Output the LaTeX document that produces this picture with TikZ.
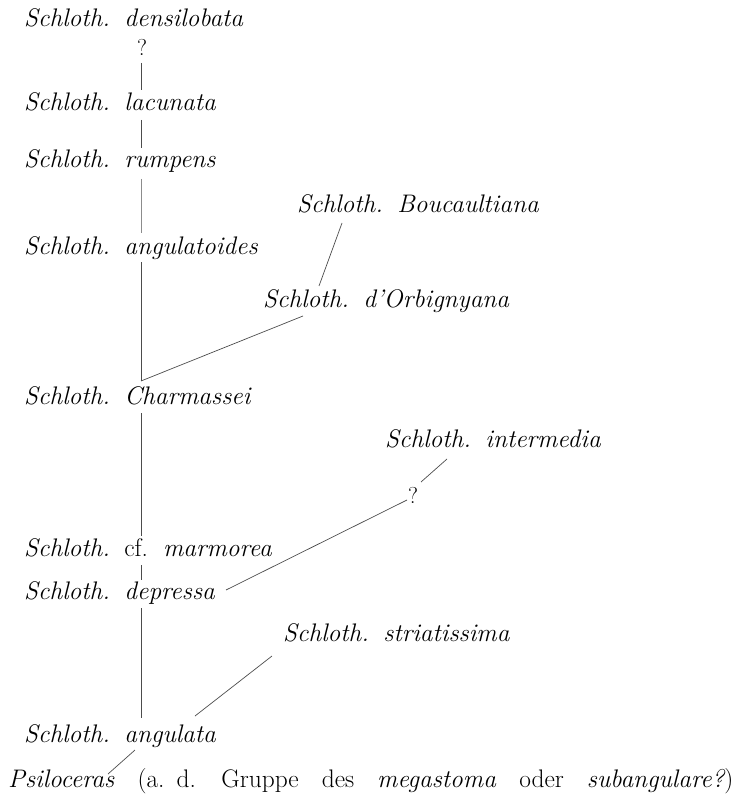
\documentclass[tikz,border=0pt]{standalone}
\newcommand{\widespaces}{\spaceskip=23pt\relax}
\begin{document}
\begin{tikzpicture}[x=1pt,y=-1pt,
  lab/.style={anchor=base west, inner sep=0pt, font=\fontsize{25.4}{30}\selectfont\itshape},
  qm/.style={anchor=base, inner sep=0pt, font=\fontsize{23}{27}\selectfont\upshape},
  br/.style={draw=black!70, line width=0.7pt}]
\useasboundingbox (0,0) rectangle (737,794);
\newcommand{\gp}{\hspace{14.5pt}}
% nodes
\node[lab] (dens) at (24,27) {Schloth.\gp densilobata};
\node[qm] (q1) at (142,56) {?};
\node[lab] (lac) at (24,111) {Schloth.\gp lacunata};
\node[lab] (rump) at (24,168) {Schloth.\gp rumpens};
\node[lab] (bouc) at (297,213) {Schloth.\gp Boucaultiana};
\node[lab] (angd) at (24,254) {Schloth.\gp angulatoides};
\node[lab] (orb) at (263,307) {Schloth.\gp d'Orbignyana};
\node[lab] (charm) at (24,404) {Schloth.\gp Charmassei};
\node[lab] (inter) at (385,447) {Schloth.\gp intermedia};
\node[qm] (q2) at (413,503) {?};
\node[lab] (marm) at (24,556) {Schloth.\gp{\upshape cf.}\hspace{15pt}marmorea};
\node[lab] (depr) at (24,599) {Schloth.\gp depressa};
\node[lab] (stria) at (283,641) {Schloth.\gp striatissima};
\node[lab] (angl) at (24,742) {Schloth.\gp angulata};
\node[lab] (psil) at (8,787) {\widespaces Psiloceras\/ {\upshape (a.\hspace{12pt}d. Gruppe des} megastoma\/ {\upshape oder} subangulare?{\upshape )}};
% trunk end points
\coordinate (a1) at (141,63);  \coordinate (b1) at (141,90);
\coordinate (a2) at (141,120); \coordinate (b2) at (141,148);
\coordinate (a3) at (141,179); \coordinate (b3) at (141,233);
\coordinate (a4) at (141,262); \coordinate (b4) at (141,381);
\coordinate (a5) at (141,413); \coordinate (b5) at (141,536);
\coordinate (a6) at (141,565); \coordinate (b6) at (141,580);
\coordinate (a7) at (141,608); \coordinate (b7) at (141,718);
\draw[br] (a1) -- (b1);
\draw[br] (a2) -- (b2);
\draw[br, draw=black!45] (a3) -- (b3);
\draw[br] (a4) -- (b4);
\draw[br] (a5) -- (b5);
\draw[br] (a6) -- (b6);
\draw[br] (a7) -- (b7);
% branches
\coordinate (c1) at (342,223); \coordinate (d1) at (319,286);
\draw[br] (c1) -- (d1);
\coordinate (c2) at (303,316);
\draw[br] (c2) -- (b4);
\coordinate (c3) at (447,459); \coordinate (d3) at (421,482);
\draw[br] (c3) -- (d3);
\coordinate (c4) at (407,500); \coordinate (d4) at (226,590);
\draw[br] (c4) -- (d4);
\coordinate (c5) at (272,656); \coordinate (d5) at (195,716);
\draw[br] (c5) -- (d5);
\coordinate (c6) at (135,750); \coordinate (d6) at (108,774);
\draw[br] (c6) -- (d6);
\end{tikzpicture}
\end{document}
